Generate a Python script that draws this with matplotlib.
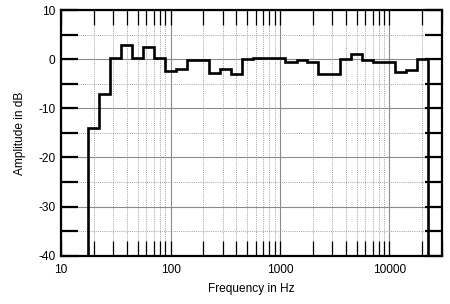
import matplotlib
matplotlib.use("Agg")
import matplotlib.pyplot as plt
import numpy as np
from matplotlib.ticker import FixedLocator, NullFormatter

plt.rcParams["font.family"] = ["Liberation Sans", "DejaVu Sans"]
plt.rcParams["axes.unicode_minus"] = False

# 1/3-octave band centres (Hz) and levels (dB)
band_centres = [20, 25, 31.5, 40, 50, 63, 80, 100, 125, 160, 200, 250, 315, 400,
                500, 630, 800, 1000, 1250, 1600, 2000, 2500, 3150, 4000, 5000,
                6300, 8000, 10000, 12500, 16000, 20000]
levels_db = [-14.0, -7.0, 0.3, 2.9, 0.3, 2.5, 0.3, -2.4, -2.1, -0.2, -0.2, -2.8,
             -2.1, -3.0, 0.0, 0.2, 0.2, 0.2, -0.65, -0.25, -0.65, -3.0, -3.0,
             0.1, 1.1, -0.25, -0.6, -0.6, -2.6, -2.3, 0.1]

x_ticks = [10, 100, 1000, 10000]
x_tick_labels = ["10", "100", "1000", "10000"]
y_ticks = [10, 0, -10, -20, -30, -40]

centres = np.array(band_centres, dtype=float)
# band edges: a third of an octave around each centre
edges = np.concatenate([centres / 2 ** (1 / 6), [centres[-1] * 2 ** (1 / 6)]])

fig = plt.figure(figsize=(4.5, 3.04), dpi=100)
ax = fig.add_axes([0.1356, 0.159, 0.846, 0.808])

ax.stairs(levels_db, edges, baseline=-40, fill=False, color="black", lw=1.9, zorder=3)

ax.set_xscale("log")
ax.set_xlim(10, 30000)
ax.set_ylim(-40, 10)

minor_x = [m * 10 ** d for d in range(1, 5) for m in range(2, 10) if m * 10 ** d <= 30000]
ax.xaxis.set_major_locator(FixedLocator(x_ticks))
ax.set_xticklabels(x_tick_labels)
ax.xaxis.set_minor_locator(FixedLocator(minor_x))
ax.xaxis.set_minor_formatter(NullFormatter())
ax.set_yticks(y_ticks)
ax.yaxis.set_minor_locator(FixedLocator([5, -5, -15, -25, -35]))

# grid: solid at decades and 10 dB, dotted elsewhere
ax.grid(which="major", color="#8a8a8a", lw=0.8, ls="-")
ax.grid(which="minor", color="#a0a0a0", lw=0.7, ls=(0, (1, 1.2)))

ax.tick_params(axis="x", which="both", direction="in", length=11, width=0.9,
               top=True, bottom=True, labelsize=8.6, pad=6)
ax.tick_params(axis="y", which="both", direction="in", length=12, width=1.6,
               left=True, right=True, labelsize=8.6, pad=4)
for s in ax.spines.values():
    s.set_linewidth(1.6)

ax.set_xlabel("Frequency in Hz", fontsize=8.6, labelpad=5)
ax.set_ylabel("Amplitude in dB", fontsize=8.6, labelpad=9)

fig.savefig("out.png", dpi=100)
